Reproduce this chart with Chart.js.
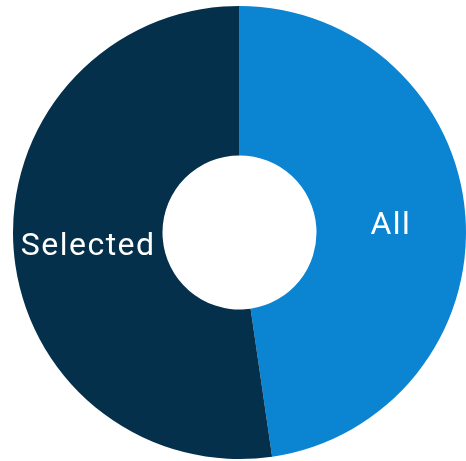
<!DOCTYPE html>
<html>
<head>
<meta charset="utf-8">
<script src="https://cdn.jsdelivr.net/npm/chart.js@4/dist/chart.umd.min.js"></script>
<style>
html,body{margin:0;padding:0;background:#fff;}
#wrap{width:466px;height:461px;position:relative;}
</style>
</head>
<body>
<div id="wrap"><canvas id="c" width="466" height="461"></canvas></div>
<script>
const categories = ["All", "Selected"];
const values = [47.7, 52.3];
const colors = ["#0b84d2", "#05304c"];

const labelPlugin = {
  id: 'sliceLabels',
  afterDatasetsDraw(chart) {
    const ctx = chart.ctx;
    const meta = chart.getDatasetMeta(0);
    ctx.save();
    ctx.fillStyle = '#ffffff';
    ctx.font = '400 32px Roboto';
    if ('letterSpacing' in ctx) ctx.letterSpacing = '1.5px';
    ctx.textAlign = 'center';
    ctx.textBaseline = 'middle';
    meta.data.forEach((arc, i) => {
      const p = arc.getCenterPoint();
      ctx.fillText(chart.data.labels[i], p.x, p.y + 4);
    });
    ctx.restore();
  }
};

new Chart(document.getElementById('c'), {
  type: 'doughnut',
  data: {
    labels: categories,
    datasets: [{ data: values, backgroundColor: colors, borderWidth: 0 }]
  },
  options: {
    responsive: false,
    animation: false,
    cutout: '34%',
    layout: { padding: { left: 13, top: 5, right: 0, bottom: 1 } },
    plugins: { legend: { display: false }, tooltip: { enabled: false } }
  },
  plugins: [labelPlugin]
});
</script>
</body>
</html>
